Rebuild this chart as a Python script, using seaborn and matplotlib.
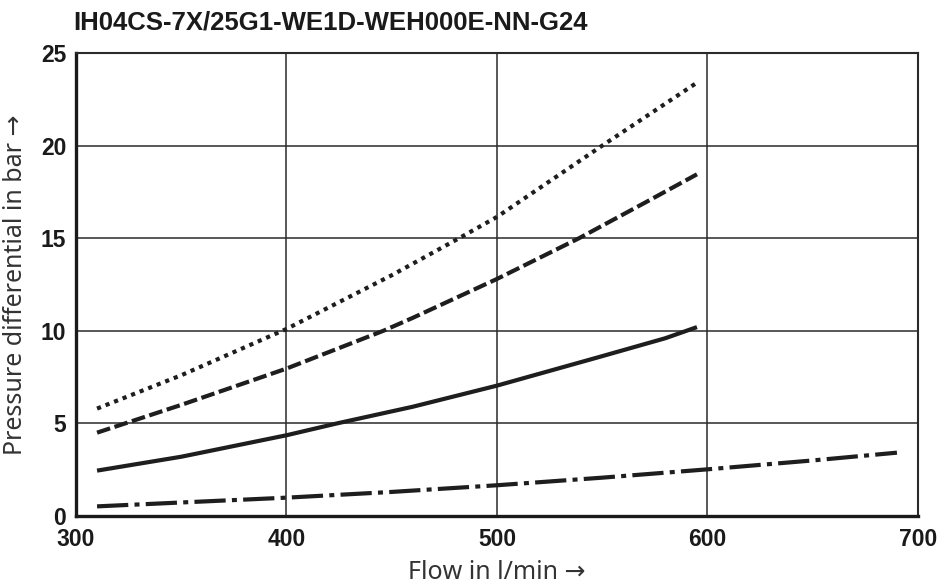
import matplotlib
matplotlib.use("Agg")
import matplotlib.pyplot as plt
import seaborn as sns
import pandas as pd

# Werte (Durchfluss in l/min, Druckdifferenz in bar)
flow_dotted = [310, 350, 400, 450, 482, 500, 550, 595]
dp_dotted = [5.8, 7.6, 10.1, 13.0, 15.0, 16.15, 20.0, 23.4]

flow_dashed = [310, 350, 400, 446, 460, 500, 539, 570, 595]
dp_dashed = [4.5, 6.0, 7.96, 10.0, 10.7, 12.8, 15.0, 16.9, 18.45]

flow_solid = [310, 350, 400, 424, 460, 500, 549, 580, 595]
dp_solid = [2.45, 3.2, 4.36, 5.0, 5.9, 7.04, 8.6, 9.6, 10.2]

flow_dashdot = [310, 350, 400, 450, 500, 550, 600, 650, 690]
dp_dashdot = [0.52, 0.73, 0.99, 1.3, 1.66, 2.07, 2.52, 3.0, 3.42]

x_ticks = [300, 400, 500, 600, 700]
y_ticks = [0, 5, 10, 15, 20, 25]

title = "IH04CS-7X/25G1-WE1D-WEH000E-NN-G24"
x_label = "Flow in l/min \u2192"
y_label = "Pressure differential in bar \u2192"

sns.set_style("white")
plt.rcParams["font.family"] = ["Liberation Sans", "DejaVu Sans"]

fig = plt.figure(figsize=(9.39, 5.86), dpi=100)
ax = fig.add_axes([76 / 939, 1 - 516 / 586, 842 / 939, 463 / 586])

linecolor = "#1e1e1e"
series = [
    (flow_dotted, dp_dotted, (0, (1.0, 1.2))),
    (flow_dashed, dp_dashed, (0, (3.3, 1.1))),
    (flow_solid, dp_solid, "-"),
    (flow_dashdot, dp_dashdot, (0, (7.5, 1.5, 1.2, 1.5))),
]
for xs, ys, ls in series:
    df = pd.DataFrame({"flow": xs, "dp": ys})
    sns.lineplot(data=df, x="flow", y="dp", ax=ax, color=linecolor,
                 linewidth=3.0, linestyle=ls, solid_capstyle="butt",
                 dash_capstyle="butt", zorder=3)

ax.set_xlim(300, 700)
ax.set_ylim(0, 25)
ax.set_xticks(x_ticks)
ax.set_yticks(y_ticks)
ax.grid(True, color="#2a2a2a", linewidth=1.1)
ax.tick_params(length=0, labelsize=16.5)
ax.tick_params(axis="x", pad=9)
ax.tick_params(axis="y", pad=7)
for lab in ax.get_xticklabels() + ax.get_yticklabels():
    lab.set_fontweight("bold")
    lab.set_color("#1a1a1a")

for side in ["top", "right"]:
    ax.spines[side].set_linewidth(1.5)
    ax.spines[side].set_color("#2a2a2a")
for side in ["left", "bottom"]:
    ax.spines[side].set_linewidth(2.4)
    ax.spines[side].set_color("#1a1a1a")

ax.set_xlabel(x_label, fontsize=18, family=["Noto Sans", "DejaVu Sans"], color="#333333")
ax.set_ylabel(y_label, fontsize=18, family=["Noto Sans", "DejaVu Sans"], color="#333333")
ax.xaxis.label.set_va("center")
ax.yaxis.label.set_va("center")
ax.xaxis.set_label_coords(0.5, -0.121)
ax.yaxis.set_label_coords(-0.072, 0.5)

fig.text(73 / 939, 1 - 11 / 586, title, fontsize=18.5, fontweight="bold",
         color="#1a1a1a", ha="left", va="top")

fig.savefig("out.png", dpi=100)
plt.close(fig)
